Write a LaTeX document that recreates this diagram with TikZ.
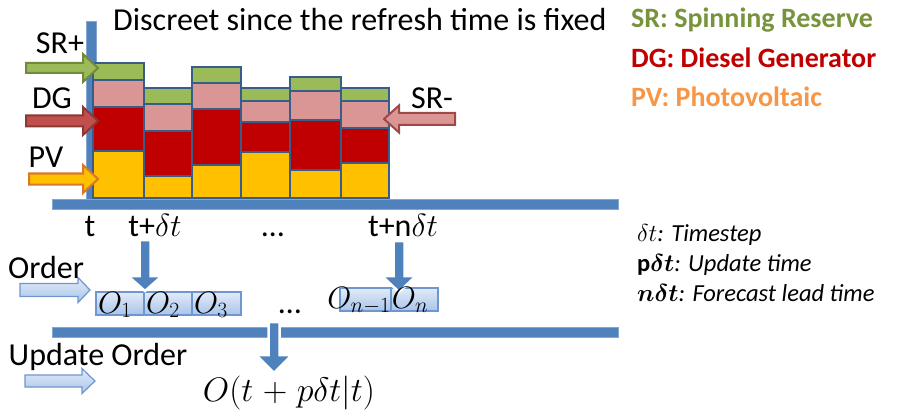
\RequirePackage{fix-cm}
\documentclass[tikz,border=0pt]{standalone}
\usepackage{amsmath}
\usepackage{fontspec}
\setmainfont{Carlito}
\definecolor{axisblue}{HTML}{4F81BD}
\definecolor{segborder}{HTML}{385D8A}
\definecolor{srgreen}{HTML}{9BBB59}
\definecolor{srgreenb}{HTML}{71893F}
\definecolor{dgpink}{HTML}{D99694}
\definecolor{dgred}{HTML}{C00000}
\definecolor{pvyellow}{HTML}{FFC000}
\definecolor{dgarrow}{HTML}{C0504D}
\definecolor{dgarrowb}{HTML}{8C3836}
\definecolor{pvarrowb}{HTML}{D9782A}
\definecolor{srmb}{HTML}{A04846}
\definecolor{leggreen}{HTML}{77933C}
\definecolor{legorange}{HTML}{F79646}
\definecolor{lbtop}{HTML}{E2EBF8}
\definecolor{lbbot}{HTML}{A9C4EA}
\definecolor{lbborder}{HTML}{6F97CF}
\begin{document}
\begin{tikzpicture}[x=1pt,y=-1pt,
  seg/.style={draw=segborder,line width=2.5pt},
  axisbar/.style={fill=axisblue,draw=axisblue!70!white,line width=0.6pt},
  lbarrow/.style={top color=lbtop,bottom color=lbbot,draw=lbborder,line width=1.2pt},
  obox/.style={top color=lbtop,bottom color=lbbot,draw=lbborder,line width=1.2pt},
  downarrow/.style={fill=axisblue,draw=white,line width=2.5pt,line join=miter},
  lbl/.style={inner sep=0pt,font=\fontsize{32}{36}\selectfont},
  ttl/.style={inner sep=0pt,font=\fontsize{32}{36}\selectfont},
  leg/.style={inner sep=0pt,anchor=west,font=\fontsize{28}{32}\selectfont\bfseries},
  defs/.style={inner sep=0pt,anchor=west,font=\fontsize{24.5}{28}\selectfont\itshape},
  mth/.style={inner sep=0pt,font=\fontsize{31}{36}\selectfont},
  mthb/.style={inner sep=0pt,font=\fontsize{34}{38}\selectfont}]
\useasboundingbox (0,0) rectangle (917,414);
% block arrow helpers (right / left / down)
\newcommand\rarrowpath[6]{(#1,#2-#4) -- (#3-#6,#2-#4) -- (#3-#6,#2-#5) -- (#3,#2) -- (#3-#6,#2+#5) -- (#3-#6,#2+#4) -- (#1,#2+#4) -- cycle}
\newcommand\larrowpath[6]{(#1,#2-#4) -- (#3+#6,#2-#4) -- (#3+#6,#2-#5) -- (#3,#2) -- (#3+#6,#2+#5) -- (#3+#6,#2+#4) -- (#1,#2+#4) -- cycle}
\newcommand\darrowpath[6]{(#1-#4,#2) -- (#1+#4,#2) -- (#1+#4,#3-#6) -- (#1+#5,#3-#6) -- (#1,#3) -- (#1-#5,#3-#6) -- (#1-#4,#3-#6) -- cycle}
% axes
\draw[axisbar] (86,21) rectangle (96,205);
\draw[axisbar] (52,199) rectangle (618,209);
% stacked bars
\foreach \xa/\xb/\g/\p/\r/\y in {93/144/63/80/107/151, 144/192/88/104/131/176, 192/241/67/83/109/165, 241/290/88/101/122/152, 290/341/77/91/120/170, 341/389/88/101/128/163}{
  \draw[seg,fill=pvyellow] (\xa,\y) rectangle (\xb,198);
  \draw[seg,fill=dgred] (\xa,\r) rectangle (\xb,\y);
  \draw[seg,fill=dgpink] (\xa,\p) rectangle (\xb,\r);
  \draw[seg,fill=srgreen] (\xa,\g) rectangle (\xb,\p);
}
% side arrows
\draw[fill=srgreen,draw=srgreenb,line width=2pt] \rarrowpath{26}{68}{98}{5}{14}{15};
\draw[fill=dgarrow,draw=dgarrowb,line width=2pt] \rarrowpath{26}{121}{98}{5.5}{14}{15};
\draw[fill=pvyellow,draw=pvarrowb,line width=2pt] \rarrowpath{29}{179}{98}{5.5}{14}{15};
\draw[fill=dgpink,draw=srmb,line width=2pt] \larrowpath{455}{119}{384}{6}{13.5}{15};
% lower axis
\draw[axisbar] (52,327) rectangle (618,337);
% order boxes
\node[obox,minimum width=48pt,minimum height=23pt,inner sep=0pt] (o1) at (120,303.5) {};
\node[obox,minimum width=48pt,minimum height=23pt,inner sep=0pt] (o2) at (168,303.5) {};
\node[obox,minimum width=49pt,minimum height=23pt,inner sep=0pt] (o3) at (216.5,303.5) {};
\node[obox,minimum width=51pt,minimum height=23pt,inner sep=0pt] (on1) at (365.5,299.5) {};
\node[obox,minimum width=47pt,minimum height=23pt,inner sep=0pt] (on) at (414.5,299.5) {};
% light blue arrows
\draw[lbarrow] \rarrowpath{20}{290}{90}{6.5}{12.5}{12};
\draw[lbarrow] \rarrowpath{25}{381}{95}{6}{12.5}{13};
% down arrows
\draw[downarrow] \darrowpath{145}{240}{291}{5.5}{17}{15};
\draw[downarrow] \darrowpath{399}{241}{292}{5.5}{17}{16};
\draw[downarrow] \darrowpath{274}{322}{373}{5.5}{18}{18};
% texts
\node[ttl,anchor=west] (title) at (113,20) {Discreet since the refresh time is fixed};
\node[leg,text=leggreen] (lsr) at (631,20) {SR: Spinning Reserve};
\node[leg,text=dgred] (ldg) at (631,58) {DG: Diesel Generator};
\node[leg,text=legorange] (lpv) at (631,97) {PV: Photovoltaic};
\node[lbl] (srp) at (60,43) {SR+};
\node[lbl] (dg) at (52,98) {DG};
\node[lbl] (pv) at (46,157) {PV};
\node[lbl] (srm) at (432,98) {SR-};
\node[ttl,anchor=base] (t0) at (90,236) {t};
\node[ttl,anchor=base] (t1) at (155,236) {t+$\delta t$};
\node[ttl,anchor=base] (tdots) at (273,236) {…};
\node[ttl,anchor=base] (tn) at (403,236) {t+n$\delta t$};
\node[ttl] (order) at (46,267) {Order};
\node[ttl] (uorder) at (98,357) {Update Order};
\node[mth,anchor=base] at (115,313) {$O_1$};
\node[mth,anchor=base] at (163,313) {$O_2$};
\node[mth,anchor=base] at (211,313) {$O_3$};
\node[ttl,anchor=base] (odots) at (290,313) {…};
\node[mth,anchor=base] at (359,308) {$O_{n-1}$};
\node[mth,anchor=base] at (410,308) {$O_n$};
\node[mthb,anchor=base] (upd) at (289,401) {$O(t\mskip1mu+\mskip1mu p\delta t|t)$};
\node[defs] (d1) at (637,235) {$\delta t$: Timestep};
\node[defs] (d2) at (637,265) {$\mathbf{p}\boldsymbol{\delta t}$: Update time};
\node[defs] (d3) at (637,293) {$\boldsymbol{n\delta t}$: Forecast lead time};
\end{tikzpicture}
\end{document}
